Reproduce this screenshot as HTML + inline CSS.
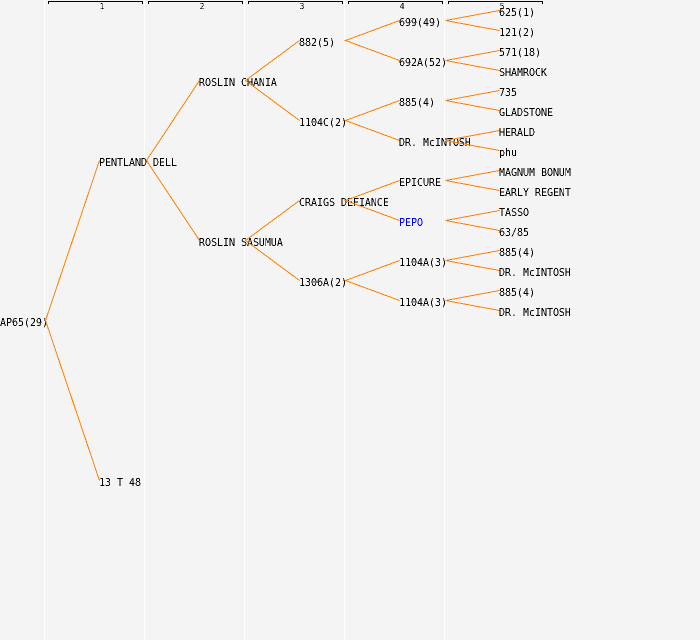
<!DOCTYPE html>
<html>
<head>
<meta charset="utf-8">
<style>
html,body{margin:0;padding:0;background:#f4f4f4;width:700px;height:640px;overflow:hidden}
svg{display:block}
text{font-family:"DejaVu Sans Mono",monospace;font-size:10px;letter-spacing:-0.02px;fill:#000}
.h{font-size:8px;text-anchor:middle}
</style>
</head>
<body>
<svg width="700" height="640" viewBox="0 0 700 640" xmlns="http://www.w3.org/2000/svg">
<defs>
<filter id="t" x="0" y="0" width="700" height="640" filterUnits="userSpaceOnUse" color-interpolation-filters="sRGB">
<feComponentTransfer><feFuncA type="discrete" tableValues="0 1"/></feComponentTransfer>
</filter>
</defs>
<rect width="700" height="640" fill="#f4f4f4"/>
<g stroke="#ffffff" stroke-width="1" shape-rendering="crispEdges">
<line x1="44.5" y1="0" x2="44.5" y2="640"/>
<line x1="144.5" y1="0" x2="144.5" y2="640"/>
<line x1="244.5" y1="0" x2="244.5" y2="640"/>
<line x1="344.5" y1="0" x2="344.5" y2="640"/>
<line x1="444.5" y1="0" x2="444.5" y2="640"/>
</g>
<g fill="none" stroke="#000" stroke-width="1" shape-rendering="crispEdges">
<path d="M48.5 4V1.5H142.5V4"/>
<path d="M148.5 4V1.5H242.5V4"/>
<path d="M248.5 4V1.5H342.5V4"/>
<path d="M348.5 4V1.5H442.5V4"/>
<path d="M448.5 4V1.5H542.5V4"/>
</g>
<g filter="url(#t)">
<text class="h" x="102" y="9">1</text>
<text class="h" x="202" y="9">2</text>
<text class="h" x="302" y="9">3</text>
<text class="h" x="402" y="9">4</text>
<text class="h" x="502" y="9">5</text>

<text transform="translate(0 326) scale(1 1.1)">AP65(29)</text>
<text transform="translate(99 166) scale(1 1.1)">PENTLAND DELL</text>
<text transform="translate(99 486) scale(1 1.1)">13 T 48</text>
<text transform="translate(199 86) scale(1 1.1)">ROSLIN CHANIA</text>
<text transform="translate(199 246) scale(1 1.1)">ROSLIN SASUMUA</text>
<text transform="translate(299 46) scale(1 1.1)">882(5)</text>
<text transform="translate(299 126) scale(1 1.1)">1104C(2)</text>
<text transform="translate(299 206) scale(1 1.1)">CRAIGS DEFIANCE</text>
<text transform="translate(299 286) scale(1 1.1)">1306A(2)</text>
<text transform="translate(399 26) scale(1 1.1)">699(49)</text>
<text transform="translate(399 66) scale(1 1.1)">692A(52)</text>
<text transform="translate(399 106) scale(1 1.1)">885(4)</text>
<text transform="translate(399 146) scale(1 1.1)">DR. McINTOSH</text>
<text transform="translate(399 186) scale(1 1.1)">EPICURE</text>
<text transform="translate(399 226) scale(1 1.1)" style="fill:#0000ff">PEPO</text>
<text transform="translate(399 266) scale(1 1.1)">1104A(3)</text>
<text transform="translate(399 306) scale(1 1.1)">1104A(3)</text>
<text transform="translate(499 16) scale(1 1.1)">625(1)</text>
<text transform="translate(499 36) scale(1 1.1)">121(2)</text>
<text transform="translate(499 56) scale(1 1.1)">571(18)</text>
<text transform="translate(499 76) scale(1 1.1)">SHAMROCK</text>
<text transform="translate(499 96) scale(1 1.1)">735</text>
<text transform="translate(499 116) scale(1 1.1)">GLADSTONE</text>
<text transform="translate(499 136) scale(1 1.1)">HERALD</text>
<text transform="translate(499 156) scale(1 1.1)">phu</text>
<text transform="translate(499 176) scale(1 1.1)">MAGNUM BONUM</text>
<text transform="translate(499 196) scale(1 1.1)">EARLY REGENT</text>
<text transform="translate(499 216) scale(1 1.1)">TASSO</text>
<text transform="translate(499 236) scale(1 1.1)">63/85</text>
<text transform="translate(499 256) scale(1 1.1)">885(4)</text>
<text transform="translate(499 276) scale(1 1.1)">DR. McINTOSH</text>
<text transform="translate(499 296) scale(1 1.1)">885(4)</text>
<text transform="translate(499 316) scale(1 1.1)">DR. McINTOSH</text>
</g>

<g fill="none" stroke="#ff8000" stroke-width="1" shape-rendering="crispEdges">
<path d="M99.5 160.5L45.5 320.5L99.5 480.5"/>
<path d="M199.5 80.5L146.5 160.5L199.5 240.5"/>
<path d="M299.5 40.5L245.5 80.5L299.5 120.5"/>
<path d="M299.5 200.5L245.5 240.5L299.5 280.5"/>
<path d="M399.5 20.5L345.5 40.5L399.5 60.5"/>
<path d="M399.5 100.5L345.5 120.5L399.5 140.5"/>
<path d="M399.5 180.5L345.5 200.5L399.5 220.5"/>
<path d="M399.5 260.5L345.5 280.5L399.5 300.5"/>
<path d="M499.5 10.5L445.5 20.5L499.5 30.5"/>
<path d="M499.5 50.5L445.5 60.5L499.5 70.5"/>
<path d="M499.5 90.5L445.5 100.5L499.5 110.5"/>
<path d="M499.5 130.5L445.5 140.5L499.5 150.5"/>
<path d="M499.5 170.5L445.5 180.5L499.5 190.5"/>
<path d="M499.5 210.5L445.5 220.5L499.5 230.5"/>
<path d="M499.5 250.5L445.5 260.5L499.5 270.5"/>
<path d="M499.5 290.5L445.5 300.5L499.5 310.5"/>
</g>
</svg>
</body>
</html>
